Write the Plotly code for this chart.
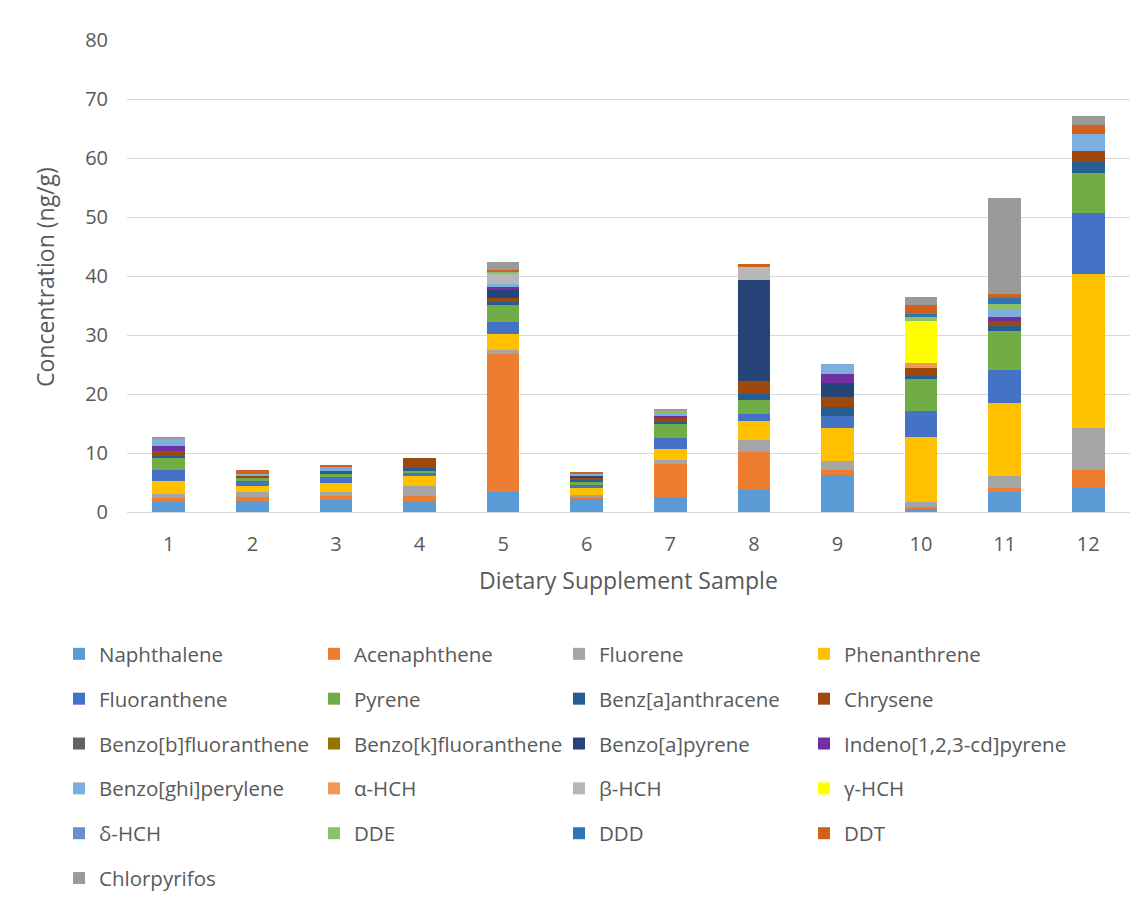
import plotly.graph_objects as go

samples = ["1", "2", "3", "4", "5", "6", "7", "8", "9", "10", "11", "12"]

naphthalene = [1.7, 1.8, 2.0, 1.7, 3.4, 2.15, 2.55, 3.65, 6.2, 0.6, 3.4, 4.1]
acenaphthene = [0.75, 0.8, 0.7, 0.95, 23.3, 0.35, 5.55, 6.5, 0.85, 0.3, 0.75, 2.95]
fluorene = [0.55, 0.75, 0.7, 1.75, 0.75, 0.35, 0.75, 2.0, 1.6, 0.8, 2.0, 7.2]
phenanthrene = [2.25, 1.1, 1.6, 1.65, 2.8, 1.2, 1.8, 3.2, 5.6, 11.0, 12.25, 26.05]
fluoranthene = [1.9, 0.8, 0.9, 0.7, 2.0, 0.55, 1.9, 1.3, 2.1, 4.35, 5.65, 10.4]
pyrene = [2.0, 0.55, 0.7, 0.2, 2.8, 0.6, 2.3, 2.3, 0, 5.5, 6.65, 6.8]
benz_a_anthracene = [0.4, 0.15, 0.3, 0.55, 0.55, 0.3, 0.35, 1.05, 1.45, 0.45, 0.85, 1.85]
chrysene = [0.85, 0.15, 0, 1.7, 0.7, 0.2, 0.8, 2.15, 1.65, 1.4, 0.75, 1.9]
benzo_b_fluoranthene = [0, 0, 0, 0, 0, 0, 0, 0, 0, 0, 0, 0]
benzo_k_fluoranthene = [0, 0, 0, 0, 0, 0, 0, 0, 0, 0, 0, 0]
benzo_a_pyrene = [0, 0, 0, 0, 1.35, 0.5, 0, 17.2, 2.45, 0, 0, 0]
indeno_pyrene = [0.8, 0, 0, 0, 0.45, 0, 0.35, 0, 1.5, 0, 0.75, 0]
benzo_ghi_perylene = [1.1, 0.4, 0.75, 0, 0.55, 0.3, 0.35, 0, 1.75, 0, 1.4, 2.8]
alpha_hch = [0, 0, 0, 0, 0, 0, 0, 0, 0, 0.85, 0, 0]
beta_hch = [0, 0, 0, 0, 1.65, 0, 0, 2.2, 0, 0, 0, 0]
gamma_hch = [0, 0, 0, 0, 0, 0, 0, 0, 0, 7.05, 0, 0]
delta_hch = [0, 0, 0, 0, 0, 0, 0, 0, 0, 0, 0, 0]
dde = [0, 0, 0, 0, 0.4, 0, 0.4, 0, 0, 0.7, 0.85, 0]
ddd = [0, 0, 0, 0, 0, 0, 0, 0, 0, 0.55, 1.05, 0]
ddt = [0, 0.55, 0.35, 0, 0.35, 0.3, 0, 0.45, 0, 1.6, 0.6, 1.5]
chlorpyrifos = [0.4, 0, 0, 0, 1.25, 0, 0.4, 0, 0, 1.3, 16.3, 1.5]

series = [
    ("Naphthalene", naphthalene, "#5B9BD5"),
    ("Acenaphthene", acenaphthene, "#ED7D31"),
    ("Fluorene", fluorene, "#A5A5A5"),
    ("Phenanthrene", phenanthrene, "#FFC000"),
    ("Fluoranthene", fluoranthene, "#4472C4"),
    ("Pyrene", pyrene, "#70AD47"),
    ("Benz[a]anthracene", benz_a_anthracene, "#255E91"),
    ("Chrysene", chrysene, "#9E480E"),
    ("Benzo[b]fluoranthene", benzo_b_fluoranthene, "#636363"),
    ("Benzo[k]fluoranthene", benzo_k_fluoranthene, "#997300"),
    ("Benzo[a]pyrene", benzo_a_pyrene, "#264478"),
    ("Indeno[1,2,3-cd]pyrene", indeno_pyrene, "#7030A0"),
    ("Benzo[ghi]perylene", benzo_ghi_perylene, "#7CAFDD"),
    ("α-HCH", alpha_hch, "#F1975A"),
    ("β-HCH", beta_hch, "#B7B7B7"),
    ("γ-HCH", gamma_hch, "#FFFF00"),
    ("δ-HCH", delta_hch, "#698ED0"),
    ("DDE", dde, "#8CC168"),
    ("DDD", ddd, "#2E75B6"),
    ("DDT", ddt, "#D0611A"),
    ("Chlorpyrifos", chlorpyrifos, "#9A9A9A"),
]

W, H = 1146, 907
FONT = "Open Sans, Lato, sans-serif"
TEXT = "#595959"

# plot area in pixels (left, right, top, bottom)
PL, PR, PT, PB = 127, 1130, 40, 512


def px_x(p):
    return (p - PL) / (PR - PL)


def px_y(p):
    return (PB - p) / (PB - PT)


fig = go.Figure()
legend_ids = ["legend", "legend2", "legend3", "legend4"]
for i, (name, vals, color) in enumerate(series):
    fig.add_trace(go.Bar(
        x=samples, y=vals, name=name,
        marker=dict(color=color, line=dict(width=0)),
        legend=legend_ids[i % 4],
        legendgroup=name,
    ))

# four legend columns laid out in reading order
col_left = [78, 333, 578, 823]
legend_top = 634
common = dict(
    orientation="v", xref="container", yref="container",
    xanchor="left", yanchor="top", traceorder="grouped",
    tracegroupgap=15.2, bgcolor="rgba(0,0,0,0)",
    font=dict(family=FONT, size=20.5, color=TEXT),
)
layout_legends = {}
for lid, cx in zip(legend_ids, col_left):
    layout_legends[lid] = dict(common, x=(cx - 19) / W, y=1 - legend_top / H)

fig.update_layout(
    width=W, height=H,
    barmode="stack", bargap=0.61,
    plot_bgcolor="white", paper_bgcolor="white",
    margin=dict(l=PL, r=W - PR, t=PT, b=H - PB, autoexpand=False),
    font=dict(family=FONT, size=20, color=TEXT),
    showlegend=True,
    xaxis=dict(
        showgrid=False, showline=True, linecolor="#D9D9D9", linewidth=1,
        tickfont=dict(size=20, color=TEXT), ticks="", ticklabelstandoff=14,
        automargin=False,
    ),
    yaxis=dict(
        range=[0, 80], dtick=10, showgrid=True, gridcolor="#D9D9D9", gridwidth=1,
        zeroline=False, showline=False, ticks="", ticklabelstandoff=18,
        tickfont=dict(size=20, color=TEXT),
        automargin=False,
    ),
    annotations=[
        dict(text="Dietary Supplement Sample", xref="paper", yref="paper",
             x=px_x(628), y=px_y(580), xanchor="center", yanchor="middle",
             showarrow=False, font=dict(size=23, color=TEXT)),
        dict(text="Concentration (ng/g)", xref="paper", yref="paper",
             x=px_x(45), y=px_y(277), xanchor="center", yanchor="middle",
             textangle=-90, showarrow=False, font=dict(size=23, color=TEXT)),
    ],
    **layout_legends,
)

fig.write_html("out.html")
